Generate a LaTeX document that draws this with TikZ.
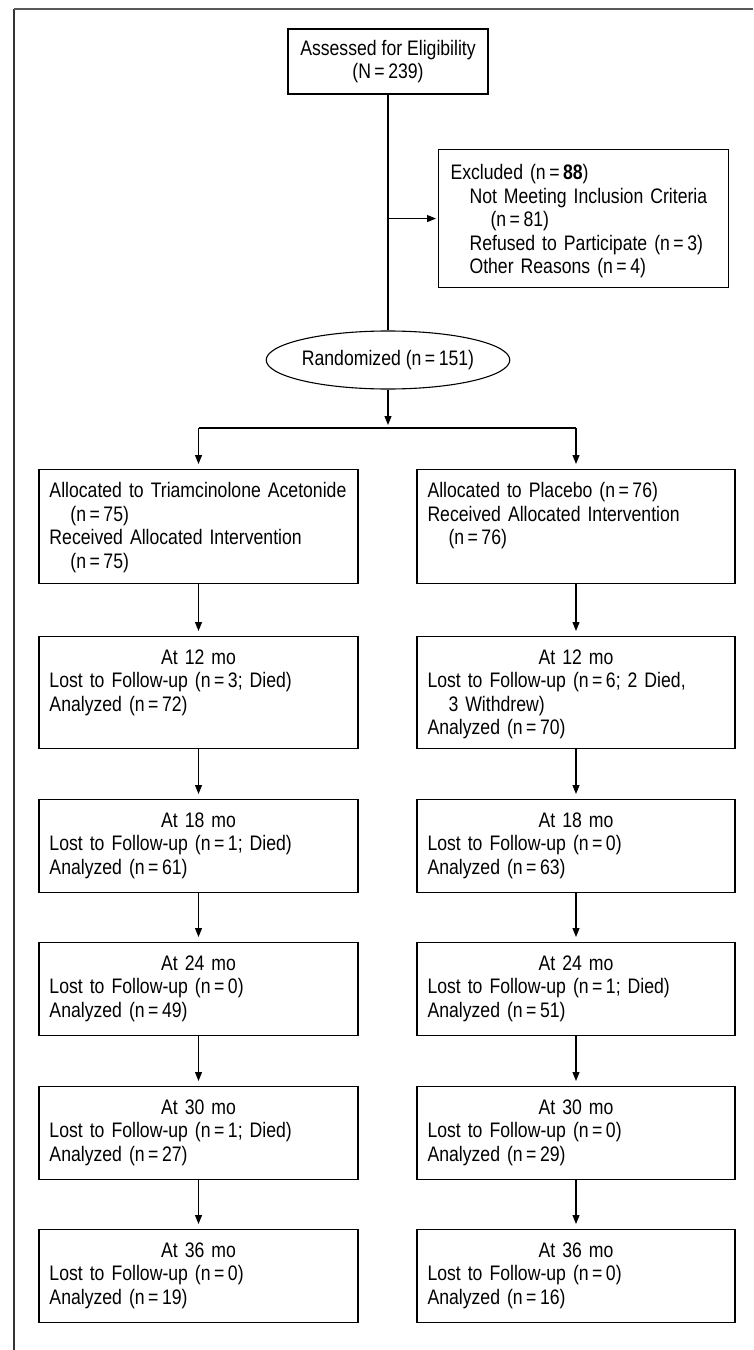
\documentclass[tikz,border=0pt]{standalone}
\usepackage{fontspec}
\setmainfont[FakeStretch=0.84]{Liberation Sans}
\usetikzlibrary{shapes.geometric,arrows.meta}

\newcommand{\boxfont}{\fontsize{21bp}{23.5bp}\selectfont}
\newcommand{\cellbox}[2]{\parbox[c][#1][t]{\linewidth}{\raggedright #2}}
\newcommand{\ctr}[1]{\makebox[\linewidth]{#1}}
\newcommand{\ind}{\hspace*{21bp}}

\tikzstyle{flowbox}=[
  draw=black,
  line width=1.1bp,
  inner xsep=10.5bp,
  inner ysep=13bp,
  text width=298bp,
  align=left,
  anchor=north,
  font=\boxfont
]
\tikzstyle{topbox}=[
  draw=black,
  line width=1.1bp,
  align=center,
  minimum width=200bp,
  minimum height=65bp,
  inner sep=0pt,
  font=\boxfont
]
\tikzstyle{flowarrow}=[
  -{Triangle[length=9bp,width=7bp]},
  line width=1.1bp,
  shorten >=5bp
]

\begin{document}
\begin{tikzpicture}[x=1bp,y=-1bp]
          \useasboundingbox (0,0) rectangle (753,1350);
          \def \cM {388}
          \def \cL {198.5}
          \def \cR {576}

          % frame
          \draw[line width=2.2bp, black!80] (14,1350) -- (14,9);
          \draw[line width=1.3bp, black!65] (14,9) -- (753,9);

          \node[topbox] (assess) at (\cM, 61.5) {Assessed for Eligibility\\(N\,=\,239)};

          \node[flowbox, text width=266bp, inner xsep=12bp, inner ysep=15bp, anchor=north west] (excl) at (438, 149)
            {\cellbox{108bp}{Excluded (n\,=\,\textbf{88})\\
             \hspace*{19bp}Not Meeting Inclusion Criteria\\
             \hspace*{40bp}(n\,=\,81)\\
             \hspace*{19bp}Refused to Participate (n\,=\,3)\\
             \hspace*{19bp}Other Reasons (n\,=\,4)}};

          \node[draw, ellipse, line width=1.1bp, minimum width=232bp, minimum height=58bp, inner sep=0pt, font=\boxfont]
            (rand) at (\cM, 360) {Randomized (n\,=\,151)};

          % left arm
          \node[flowbox] (L0) at (\cL, 469) {\cellbox{88bp}{Allocated to Triamcinolone Acetonide\\\ind(n\,=\,75)\\Received Allocated Intervention\\\ind(n\,=\,75)}};
          \node[flowbox] (L1) at (\cL, 636) {\cellbox{86bp}{\ctr{At 12 mo}\\Lost to Follow-up (n\,=\,3; Died)\\Analyzed (n\,=\,72)}};
          \node[flowbox] (L2) at (\cL, 799) {\cellbox{67bp}{\ctr{At 18 mo}\\Lost to Follow-up (n\,=\,1; Died)\\Analyzed (n\,=\,61)}};
          \node[flowbox] (L3) at (\cL, 942) {\cellbox{67bp}{\ctr{At 24 mo}\\Lost to Follow-up (n\,=\,0)\\Analyzed (n\,=\,49)}};
          \node[flowbox] (L4) at (\cL, 1086) {\cellbox{67bp}{\ctr{At 30 mo}\\Lost to Follow-up (n\,=\,1; Died)\\Analyzed (n\,=\,27)}};
          \node[flowbox] (L5) at (\cL, 1229) {\cellbox{67bp}{\ctr{At 36 mo}\\Lost to Follow-up (n\,=\,0)\\Analyzed (n\,=\,19)}};

          % right arm
          \node[flowbox, text width=297bp] (R0) at (\cR, 469) {\cellbox{88bp}{Allocated to Placebo (n\,=\,76)\\Received Allocated Intervention\\\ind(n\,=\,76)}};
          \node[flowbox, text width=297bp] (R1) at (\cR, 636) {\cellbox{86bp}{\ctr{At 12 mo}\\Lost to Follow-up (n\,=\,6; 2 Died,\\\ind3 Withdrew)\\Analyzed (n\,=\,70)}};
          \node[flowbox, text width=297bp] (R2) at (\cR, 799) {\cellbox{67bp}{\ctr{At 18 mo}\\Lost to Follow-up (n\,=\,0)\\Analyzed (n\,=\,63)}};
          \node[flowbox, text width=297bp] (R3) at (\cR, 942) {\cellbox{67bp}{\ctr{At 24 mo}\\Lost to Follow-up (n\,=\,1; Died)\\Analyzed (n\,=\,51)}};
          \node[flowbox, text width=297bp] (R4) at (\cR, 1086) {\cellbox{67bp}{\ctr{At 30 mo}\\Lost to Follow-up (n\,=\,0)\\Analyzed (n\,=\,29)}};
          \node[flowbox, text width=297bp] (R5) at (\cR, 1229) {\cellbox{67bp}{\ctr{At 36 mo}\\Lost to Follow-up (n\,=\,0)\\Analyzed (n\,=\,16)}};

          \coordinate (branch) at (assess.south |- excl.west);
          \coordinate (splitC) at (\cM, 428);
          \coordinate (splitL) at (L0.north |- splitC);
          \coordinate (splitR) at (R0.north |- splitC);

          \draw[line width=1.1bp] (assess) -- (rand);
          \draw[flowarrow, shorten >=2bp] (branch) -- (excl.west);
          \draw[flowarrow, shorten >=3bp] (rand) -- (splitC);
          \draw[line width=1.1bp] (splitL) -- (splitR);
          \draw[flowarrow] (splitL) -- (L0);
          \draw[flowarrow] (splitR) -- (R0);

          \foreach \i/\j in {0/1,1/2,2/3,3/4,4/5}{
            \draw[flowarrow] (L\i) -- (L\j);
            \draw[flowarrow] (R\i) -- (R\j);
          }
        \end{tikzpicture}
\end{document}
